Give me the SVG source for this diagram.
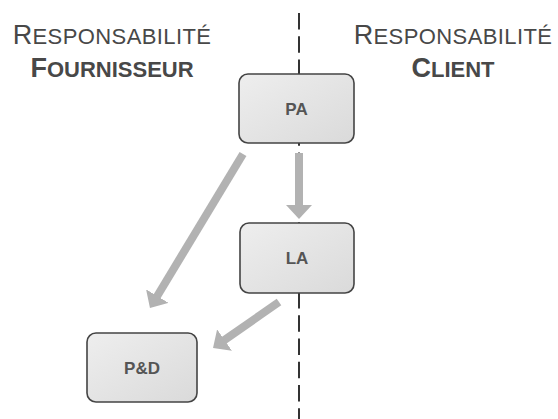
<svg xmlns="http://www.w3.org/2000/svg" width="558" height="419" viewBox="0 0 558 419">
  <defs>
    <linearGradient id="boxfill" x1="0" y1="0" x2="1" y2="1">
      <stop offset="0" stop-color="#eeeeee"/>
      <stop offset="1" stop-color="#dadada"/>
    </linearGradient>
    <marker id="head" markerUnits="userSpaceOnUse" viewBox="0 0 14 26" markerWidth="14" markerHeight="26" refX="6" refY="13" orient="auto">
      <path d="M0,0 L14,13 L0,26 Z" fill="#b2b2b2"/>
    </marker>
  </defs>
  <style>
    .hdr { font-family: "Liberation Sans", Arial, sans-serif; fill: #484848; }
    .box { fill: url(#boxfill); stroke: #444; stroke-width: 1.6; }
    .lbl { font-family: "Liberation Sans", Arial, sans-serif; font-weight: bold; font-size: 17px; fill: #555; text-anchor: middle; }
    .arrow { stroke: #b2b2b2; stroke-width: 8; fill: none; marker-end: url(#head); }
    .divider { stroke: #333; stroke-width: 2; stroke-dasharray: 16.5 6.75; }
  </style>
  <rect width="558" height="419" fill="#ffffff"/>

  <g id="header-fournisseur" class="hdr" text-anchor="middle">
    <text x="112" y="44" letter-spacing="0.4"><tspan font-size="27">R</tspan><tspan font-size="22">ESPONSABILITÉ</tspan></text>
    <text x="112" y="77" font-weight="bold"><tspan font-size="27">F</tspan><tspan font-size="22">OURNISSEUR</tspan></text>
  </g>
  <g id="header-client" class="hdr" text-anchor="middle">
    <text x="453" y="44" letter-spacing="0.4"><tspan font-size="27">R</tspan><tspan font-size="22">ESPONSABILITÉ</tspan></text>
    <text x="453" y="77" font-weight="bold"><tspan font-size="27">C</tspan><tspan font-size="22">LIENT</tspan></text>
  </g>

  <line id="divider" class="divider" x1="299" y1="13" x2="299" y2="419"/>

  <g id="connectors">
    <line class="arrow" x1="299" y1="153" x2="299" y2="211"/>
    <line class="arrow" x1="243" y1="154" x2="154.1" y2="301.2"/>
    <line class="arrow" x1="279" y1="302" x2="219.6" y2="343.4"/>
  </g>

  <g id="node-PA">
    <rect class="box" x="239" y="74" width="115" height="69" rx="9"/>
    <text class="lbl" x="296.5" y="114.5">PA</text>
  </g>
  <g id="node-LA">
    <rect class="box" x="240" y="223" width="114" height="70" rx="9"/>
    <text class="lbl" x="297" y="263.5">LA</text>
  </g>
  <g id="node-PD">
    <rect class="box" x="87" y="333" width="110" height="69" rx="9"/>
    <text class="lbl" x="142" y="373.5">P&amp;D</text>
  </g>
</svg>
